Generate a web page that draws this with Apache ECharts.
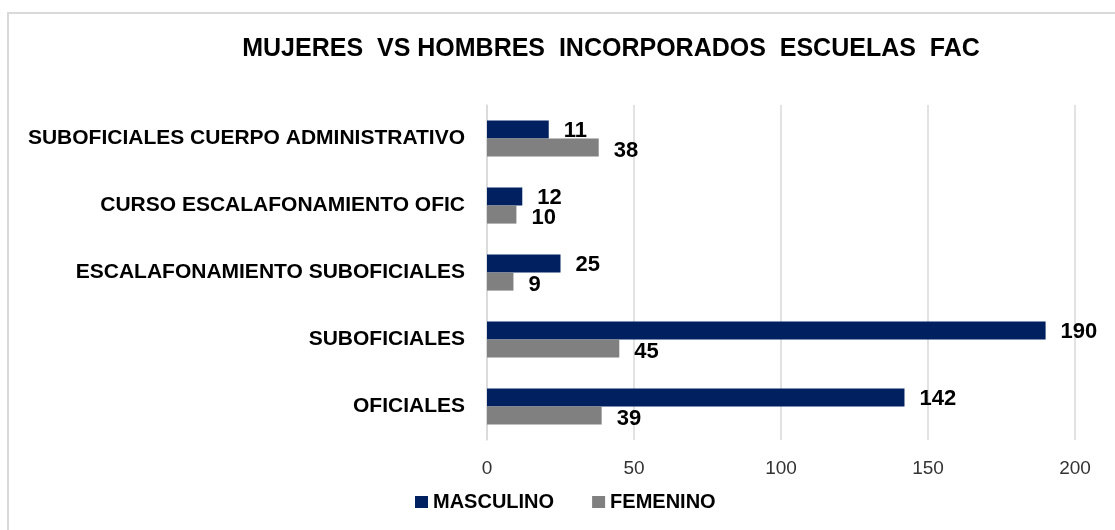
<!DOCTYPE html>
<html>
<head>
<meta charset="utf-8">
<script src="https://cdn.jsdelivr.net/npm/echarts@6/dist/echarts.min.js"></script>
<style>
  html, body { margin: 0; padding: 0; background: #fff; }
  #chart { width: 1115px; height: 530px; }
</style>
</head>
<body>
<div id="chart"></div>
<script>
// categories bottom -> top
const categories = ['OFICIALES', 'SUBOFICIALES', 'ESCALAFONAMIENTO SUBOFICIALES', 'CURSO ESCALAFONAMIENTO OFIC', 'SUBOFICIALES CUERPO ADMINISTRATIVO']
// bar lengths as drawn (the top navy bar is drawn ~21 long though labelled 11)
const masculino = [142, 190, 25, 12, 21]
const masculinoLabels = ['142', '190', '25', '12', '11']
const femenino = [39, 45, 9, 10, 38]
const xTicks = { min: 0, max: 200, interval: 50 }

const chart = echarts.init(document.getElementById('chart'))
const font = 'Liberation Sans, Arial, sans-serif'

chart.setOption({
  backgroundColor: '#ffffff',
  textStyle: { fontFamily: font },
  graphic: [{
    type: 'rect',
    shape: { x: 8, y: 13, width: 1300, height: 700 },
    style: { fill: 'none', stroke: '#d9d9d9', lineWidth: 2 },
    silent: true
  }],
  title: {
    text: 'MUJERES  VS HOMBRES  INCORPORADOS  ESCUELAS  FAC',
    left: 606,
    textAlign: 'center',
    top: 32,
    textStyle: { fontSize: 25, fontWeight: 'bold', color: '#000', fontFamily: font }
  },
  legend: {
    data: ['MASCULINO', 'FEMENINO'],
    left: 410,
    top: 487,
    itemWidth: 13,
    itemHeight: 12,
    itemGap: 38,
    icon: 'rect',
    textStyle: { fontSize: 20, fontWeight: 'bold', color: '#000', fontFamily: font }
  },
  grid: { left: 487, right: 40, top: 105, bottom: 90, containLabel: false },
  xAxis: {
    type: 'value',
    min: xTicks.min,
    max: xTicks.max,
    interval: xTicks.interval,
    axisLine: { show: false },
    axisTick: { show: false },
    axisLabel: { fontSize: 19, color: '#333', margin: 19, fontFamily: font },
    splitLine: { lineStyle: { color: '#d9d9d9', width: 1.5 } }
  },
  yAxis: {
    type: 'category',
    data: categories,
    axisLine: { lineStyle: { color: '#d9d9d9', width: 1.5 } },
    axisTick: { show: false },
    axisLabel: { fontSize: 21, fontWeight: 'bold', color: '#000', margin: 22, fontFamily: font }
  },
  series: [
    {
      name: 'MASCULINO',
      type: 'bar',
      data: masculino,
      barGap: '0%',
      barCategoryGap: '46%',
      itemStyle: { color: '#002060' },
      label: {
        show: true, position: 'right', distance: 15, offset: [0, 1],
        formatter: p => masculinoLabels[p.dataIndex],
        fontSize: 22, fontWeight: 'bold', color: '#000', fontFamily: font
      }
    },
    {
      name: 'FEMENINO',
      type: 'bar',
      data: femenino,
      barGap: '0%',
      barCategoryGap: '46%',
      itemStyle: { color: '#808080' },
      label: {
        show: true, position: 'right', distance: 15, offset: [0, 3],
        fontSize: 22, fontWeight: 'bold', color: '#000', fontFamily: font
      }
    }
  ]
})
</script>
</body>
</html>
